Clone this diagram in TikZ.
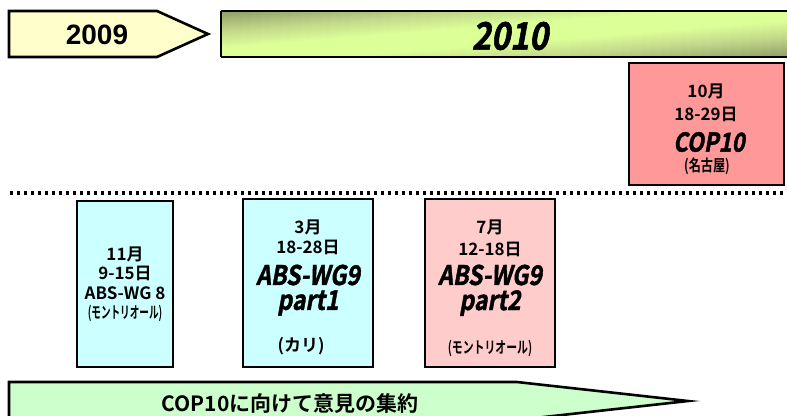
\documentclass[tikz,border=0pt]{standalone}
\usepackage{fontspec}
\setmainfont{Liberation Sans}
\newfontfamily\jpb{Noto Sans CJK JP Bold}
\newfontfamily\popfont{Noto Sans CJK JP Bold}[FakeSlant=0.18,FakeStretch=0.85,FakeBold=1.5]
\newfontfamily\arialb{Liberation Sans Bold}
\definecolor{yel}{HTML}{FFFFCC}
\definecolor{cyanbox}{HTML}{CCFFFF}
\definecolor{pinkbox}{HTML}{FFCCCC}
\definecolor{copbox}{HTML}{FF9999}
\definecolor{arrgreen}{HTML}{CCFFCC}
\definecolor{barlight}{HTML}{DCFF98}
\definecolor{barmid}{HTML}{C3D88A}
\definecolor{bardark}{HTML}{8E9D66}
\pgfdeclareverticalshading{barsh}{100bp}{color(0bp)=(bardark); color(25bp)=(bardark); color(36bp)=(barmid); color(45bp)=(barlight); color(55bp)=(barlight); color(64bp)=(barmid); color(75bp)=(bardark); color(100bp)=(bardark)}
\tikzset{
  frame/.style={draw=black, line width=2.6pt},
  evbox/.style={frame, rectangle, inner sep=0pt},
  lbl/.style={inner sep=0pt, font=\jpb\fontsize{17}{20}\selectfont},
  sml/.style={inner sep=0pt, font=\jpb\fontsize{16}{18}\selectfont},
  pop/.style={inner sep=0pt, font=\popfont\fontsize{27}{30}\selectfont},
}
\begin{document}
\begin{tikzpicture}[x=1pt,y=1pt]
\useasboundingbox (0,0) rectangle (787,-415);
% 2009 arrow
\draw[frame, fill=yel] (9,-11) -- (157,-11) -- (208,-34) -- (157,-57) -- (9,-57) -- cycle;
\node[inner sep=0pt, font=\arialb\fontsize{28}{30}\selectfont] (y2009) at (97,-35) {2009};
% 2010 bar with diagonal gradient
\begin{scope}
\clip (221,-11) rectangle (787,-57);
\foreach \i in {0,...,57} {
  \pgfmathsetmacro\xa{221+\i*10}
  \pgfmathsetmacro\yc{-57+(\xa+5-221)/566*46}
  \shade[shading=barsh] (\xa,\yc-46) rectangle (\xa+10.6,\yc+46);
}
\end{scope}
\draw[frame] (221,-11) -- (800,-11) (221,-57) -- (800,-57) (221,-11) -- (221,-57);
\node[inner sep=0pt, font=\popfont\fontsize{38}{40}\selectfont] (y2010) at (510,-36) {2010};
% COP10 box
\node[evbox, fill=copbox, minimum width=155pt, minimum height=122pt] (cop) at (706.5,-124) {};
\node[lbl] (c1) at (706,-91) {10月};
\node[lbl] (c2) at (706,-114) {18-29日};
\node[pop, font=\popfont\fontsize{26}{28}\selectfont] (c3) at (709,-142) {COP10};
\node[sml] (c4) at (707,-166) {\scalebox{0.76}[1]{(名古屋)}};
% dotted separator
\coordinate (dl) at (10,-193);
\coordinate (dr) at (787,-193);
\draw[line width=3.4pt, dash pattern=on 3.4pt off 3.6pt] (dl) -- (dr);
% box 1
\node[evbox, fill=cyanbox, minimum width=96pt, minimum height=166pt] (b1) at (125,-284) {};
\node[lbl] (b1a) at (125,-254) {11月};
\node[lbl] (b1b) at (125,-273) {9-15日};
\node[lbl] (b1c) at (125,-293) {ABS-WG 8};
\node[sml] (b1d) at (125,-313) {\scalebox{0.6}[1]{(モントリオール)}};
% box 2
\node[evbox, fill=cyanbox, minimum width=130pt, minimum height=168pt] (b2) at (308,-283) {};
\node[lbl] (b2a) at (308,-227) {3月};
\node[lbl] (b2b) at (308,-247) {18-28日};
\node[pop] (b2c) at (308,-275) {ABS-WG9};
\node[pop] (b2d) at (308,-303) {part1};
\node[lbl] (b2e) at (301,-346) {(カリ)};
% box 3
\node[evbox, fill=pinkbox, minimum width=130pt, minimum height=168pt] (b3) at (490,-283) {};
\node[lbl] (b3a) at (490,-227) {7月};
\node[lbl] (b3b) at (490,-249) {12-18日};
\node[pop] (b3c) at (490,-275) {ABS-WG9};
\node[pop] (b3d) at (490,-303) {part2};
\node[sml] (b3e) at (490,-348) {\scalebox{0.68}[1]{(モントリオール)}};
% bottom arrow
\draw[frame, fill=arrgreen] (9,-382) -- (517,-382) -- (688,-401) -- (517,-420) -- (9,-420) -- cycle;
\node[inner sep=0pt, font=\jpb\fontsize{21}{24}\selectfont] (goal) at (290,-404) {COP10に向けて意見の集約};
\end{tikzpicture}
\end{document}
